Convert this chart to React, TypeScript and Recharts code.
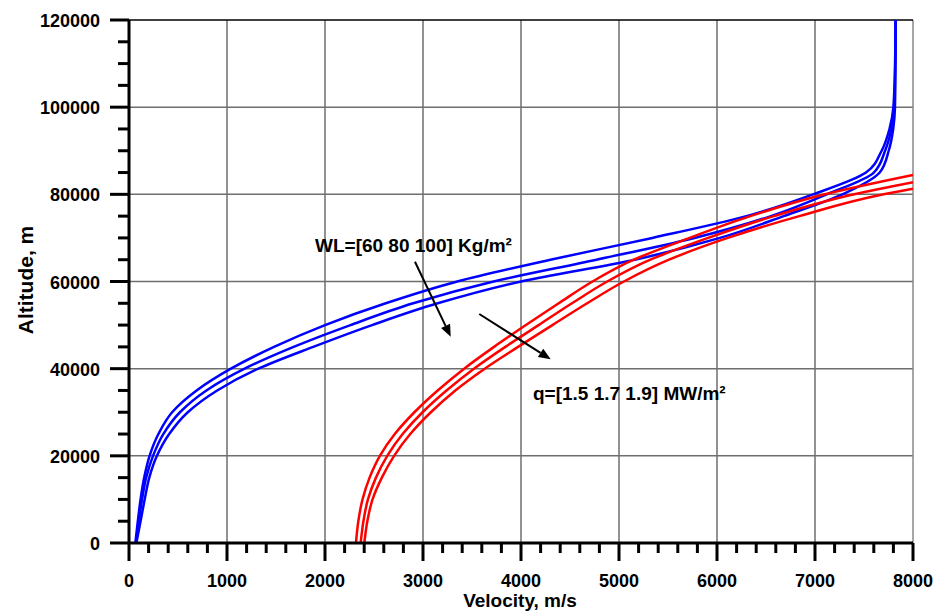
import React from "react";
import {
  LineChart,
  Line,
  XAxis,
  YAxis,
  ReferenceLine,
  ReferenceDot,
  Label,
} from "recharts";

// velocity (m/s) vs altitude (m)
const blueWL60 = [
  { v: 65, h: 0 }, { v: 90, h: 5000 }, { v: 118, h: 10000 }, { v: 155, h: 15000 },
  { v: 210, h: 20000 }, { v: 300, h: 25000 }, { v: 440, h: 30000 }, { v: 690, h: 35000 },
  { v: 1040, h: 40000 }, { v: 1480, h: 45000 }, { v: 2000, h: 50000 }, { v: 2620, h: 55000 },
  { v: 3350, h: 60000 }, { v: 4300, h: 65000 }, { v: 5340, h: 70000 }, { v: 6300, h: 75000 },
  { v: 6980, h: 80000 }, { v: 7520, h: 85000 }, { v: 7680, h: 90000 }, { v: 7760, h: 95000 },
  { v: 7800, h: 100000 }, { v: 7817, h: 110000 }, { v: 7822, h: 120000 },
];
const blueWL80 = [
  { v: 70, h: 0 }, { v: 100, h: 5000 }, { v: 133, h: 10000 }, { v: 175, h: 15000 },
  { v: 245, h: 20000 }, { v: 350, h: 25000 }, { v: 520, h: 30000 }, { v: 790, h: 35000 },
  { v: 1180, h: 40000 }, { v: 1680, h: 45000 }, { v: 2260, h: 50000 }, { v: 2900, h: 55000 },
  { v: 3720, h: 60000 }, { v: 4770, h: 65000 }, { v: 5770, h: 70000 }, { v: 6550, h: 75000 },
  { v: 7120, h: 80000 }, { v: 7600, h: 85000 }, { v: 7715, h: 90000 }, { v: 7780, h: 95000 },
  { v: 7810, h: 100000 }, { v: 7819, h: 110000 }, { v: 7823, h: 120000 },
];
const blueWL100 = [
  { v: 75, h: 0 }, { v: 118, h: 5000 }, { v: 160, h: 10000 }, { v: 207, h: 15000 },
  { v: 285, h: 20000 }, { v: 410, h: 25000 }, { v: 600, h: 30000 }, { v: 900, h: 35000 },
  { v: 1320, h: 40000 }, { v: 1880, h: 45000 }, { v: 2480, h: 50000 }, { v: 3150, h: 55000 },
  { v: 4000, h: 60000 }, { v: 5160, h: 65000 }, { v: 6030, h: 70000 }, { v: 6680, h: 75000 },
  { v: 7280, h: 80000 }, { v: 7660, h: 85000 }, { v: 7752, h: 90000 }, { v: 7798, h: 95000 },
  { v: 7816, h: 100000 }, { v: 7821, h: 110000 }, { v: 7824, h: 120000 },
];
const redQ15 = [
  { v: 2316, h: 0 }, { v: 2340, h: 5000 }, { v: 2383, h: 10000 }, { v: 2455, h: 15000 },
  { v: 2560, h: 20000 }, { v: 2712, h: 25000 }, { v: 2912, h: 30000 }, { v: 3150, h: 35000 },
  { v: 3420, h: 40000 }, { v: 3725, h: 45000 }, { v: 4050, h: 50000 }, { v: 4385, h: 55000 },
  { v: 4730, h: 60000 }, { v: 5150, h: 65000 }, { v: 5720, h: 70000 }, { v: 6340, h: 75000 },
  { v: 7100, h: 80000 }, { v: 8000, h: 84440 },
];
const redQ17 = [
  { v: 2364, h: 0 }, { v: 2392, h: 5000 }, { v: 2438, h: 10000 }, { v: 2520, h: 15000 },
  { v: 2635, h: 20000 }, { v: 2792, h: 25000 }, { v: 2995, h: 30000 }, { v: 3240, h: 35000 },
  { v: 3520, h: 40000 }, { v: 3840, h: 45000 }, { v: 4180, h: 50000 }, { v: 4520, h: 55000 },
  { v: 4880, h: 60000 }, { v: 5320, h: 65000 }, { v: 5910, h: 70000 }, { v: 6580, h: 75000 },
  { v: 7400, h: 80000 }, { v: 8000, h: 82760 },
];
const redQ19 = [
  { v: 2401, h: 0 }, { v: 2432, h: 5000 }, { v: 2485, h: 10000 }, { v: 2580, h: 15000 },
  { v: 2705, h: 20000 }, { v: 2870, h: 25000 }, { v: 3080, h: 30000 }, { v: 3330, h: 35000 },
  { v: 3630, h: 40000 }, { v: 3970, h: 45000 }, { v: 4320, h: 50000 }, { v: 4675, h: 55000 },
  { v: 5050, h: 60000 }, { v: 5510, h: 65000 }, { v: 6110, h: 70000 }, { v: 6840, h: 75000 },
  { v: 7700, h: 80000 }, { v: 8000, h: 81290 },
];

const xMajor = [0, 1000, 2000, 3000, 4000, 5000, 6000, 7000, 8000];
const yMajor = [0, 20000, 40000, 60000, 80000, 100000, 120000];
const xMinorStep = 200;
const yMinorStep = 5000;

const xTicks: number[] = [];
for (let t = 0; t <= 8000; t += xMinorStep) xTicks.push(t);
const yTicks: number[] = [];
for (let t = 0; t <= 120000; t += yMinorStep) yTicks.push(t);

const FONT = "'Liberation Sans', Arial, sans-serif";

function XTick(props: any) {
  const { x, y, payload } = props;
  const major = xMajor.includes(payload.value);
  return (
    <g>
      <line x1={x} x2={x} y1={y} y2={y + (major ? 18 : 10)} stroke="#000" strokeWidth={3} />
      {major && (
        <text x={x} y={y + 44} textAnchor="middle" fontFamily={FONT} fontWeight="bold" fontSize={18} fill="#000">
          {payload.value}
        </text>
      )}
    </g>
  );
}

function YTick(props: any) {
  const { x, y, payload } = props;
  const major = yMajor.includes(payload.value);
  return (
    <g>
      <line x1={x} x2={x - (major ? 19 : 11)} y1={y} y2={y} stroke="#000" strokeWidth={3} />
      {major && (
        <text x={x - 29} y={y + 7} textAnchor="end" fontFamily={FONT} fontWeight="bold" fontSize={18} fill="#000">
          {payload.value}
        </text>
      )}
    </g>
  );
}

function Arrow(props: any) {
  const { x1, y1, x2, y2 } = props;
  const dx = x2 - x1;
  const dy = y2 - y1;
  const len = Math.sqrt(dx * dx + dy * dy);
  const ux = dx / len;
  const uy = dy / len;
  const hl = 12;
  const hw = 5;
  const bx = x2 - ux * hl;
  const by = y2 - uy * hl;
  return (
    <g>
      <line x1={x1} y1={y1} x2={bx} y2={by} stroke="#000" strokeWidth={2} />
      <polygon
        points={`${x2},${y2} ${bx - uy * hw},${by + ux * hw} ${bx + uy * hw},${by - ux * hw}`}
        fill="#000"
      />
    </g>
  );
}

const noteText = (text: string) => (p: any) => (
  <text x={p.cx} y={p.cy} fontFamily={FONT} fontWeight="bold" fontSize={19} fill="#000">
    {text}
  </text>
);

const lineProps = {
  type: "monotoneY" as const,
  dataKey: "h",
  dot: false,
  activeDot: false,
  strokeWidth: 2.5,
  isAnimationActive: false,
};

export default function App() {
  return (
    <div style={{ position: "absolute", left: 0, top: 0, width: 936, height: 612, background: "#fff" }}>
      <LineChart width={936} height={612} margin={{ top: 20, right: 23, bottom: 0, left: 0 }}>
        <XAxis
          dataKey="v"
          type="number"
          domain={[0, 8000]}
          ticks={xTicks}
          interval={0}
          height={69}
          tickSize={0}
          tickMargin={0}
          tick={<XTick />}
          axisLine={false}
          allowDataOverflow
        >
          <Label
            content={() => (
              <text x={520} y={607} textAnchor="middle" fontFamily={FONT} fontWeight="bold" fontSize={19} fill="#000">
                Velocity, m/s
              </text>
            )}
          />
        </XAxis>
        <YAxis
          type="number"
          domain={[0, 120000]}
          ticks={yTicks}
          interval={0}
          width={129}
          tickSize={0}
          tickMargin={0}
          tick={<YTick />}
          axisLine={false}
          allowDataOverflow
        >
          <Label
            content={() => (
              <text
                x={33}
                y={280}
                textAnchor="middle"
                transform="rotate(-90 33 280)"
                fontFamily={FONT}
                fontWeight="bold"
                fontSize={21}
                fill="#000"
              >
                Altitude, m
              </text>
            )}
          />
        </YAxis>

        {xMajor.slice(1, -1).map((t) => (
          <ReferenceLine key={"gx" + t} x={t} stroke="#6e6e6e" strokeWidth={1.5} />
        ))}
        {yMajor.slice(1, -1).map((t) => (
          <ReferenceLine key={"gy" + t} y={t} stroke="#6e6e6e" strokeWidth={1.5} />
        ))}
        <ReferenceLine x={8000} stroke="#888" strokeWidth={1.5} />
        <ReferenceLine y={120000} stroke="#000" strokeWidth={1.5} />

        <Line {...lineProps} data={blueWL60} stroke="#0000ff" />
        <Line {...lineProps} data={blueWL80} stroke="#0000ff" />
        <Line {...lineProps} data={blueWL100} stroke="#0000ff" />
        <Line {...lineProps} data={redQ15} stroke="#ff0000" />
        <Line {...lineProps} data={redQ17} stroke="#ff0000" />
        <Line {...lineProps} data={redQ19} stroke="#ff0000" />

        <ReferenceLine x={0} stroke="#000" strokeWidth={3} />
        <ReferenceLine y={0} stroke="#000" strokeWidth={3} />

        <ReferenceLine
          segment={[{ x: 2918, y: 64540 }, { x: 3283, y: 47330 }]}
          shape={Arrow}
        />
        <ReferenceLine
          segment={[{ x: 3574, y: 52540 }, { x: 4303, y: 42150 }]}
          shape={Arrow}
        />
        <ReferenceDot x={1898} y={66770} r={0} shape={noteText("WL=[60 80 100] Kg/m²")} />
        <ReferenceDot x={4122} y={32810} r={0} shape={noteText("q=[1.5 1.7 1.9] MW/m²")} />
      </LineChart>
    </div>
  );
}
